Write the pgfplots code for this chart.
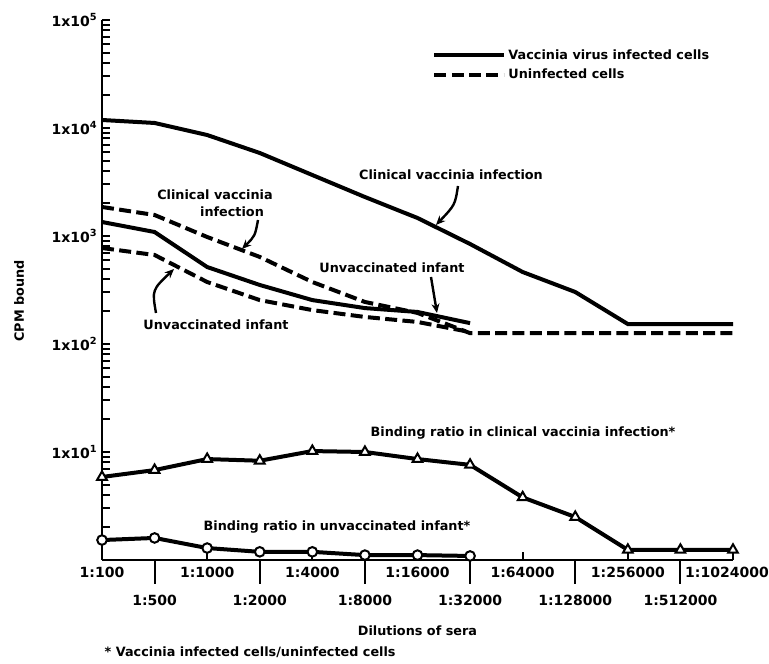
\documentclass[border=0pt]{standalone}
\usepackage{fontspec}
\setmainfont{DejaVu Sans}[UprightFont={* Bold}, BoldFont={* Bold}]
\usepackage{pgfplots}
\pgfplotsset{compat=1.18}
\usetikzlibrary{arrows.meta}

\begin{document}
\begin{tikzpicture}[font=\fontsize{9.6}{11.5}\selectfont]
\path[use as bounding box] (0,0) rectangle (576.75pt,498pt);
\begin{axis}[
  at={(76.5pt,78pt)}, anchor=south west,
  scale only axis, width=473.25pt, height=405pt,
  xmin=0, xmax=12, ymin=1, ymax=100000,
  ymode=log, clip=false,
  axis x line=bottom, axis y line=left,
  axis line style={line width=2.2pt, -},
  tick align=inside,
  major tick length=6pt, minor tick length=6pt,
  every tick/.style={line width=1.5pt, black},
  ytick={10,100,1000,10000,100000},
  yticklabels={1x10\textsuperscript{1},1x10\textsuperscript{2},1x10\textsuperscript{3},1x10\textsuperscript{4},1x10\textsuperscript{5}},
  minor ytick={2,3,4,5,6,7,8,9,20,30,40,50,60,70,80,90,200,300,400,500,600,700,800,900,2000,3000,4000,5000,6000,7000,8000,9000,20000,30000,40000,50000,60000,70000,80000,90000},
  xtick={0,2,4,6,8,10,12},
  xticklabels={1:100,1:1000,1:4000,1:16000,1:64000,1:256000,\hspace*{-9pt}1:1024000},
  extra x ticks={1,3,5,7,9,11},
  extra x tick labels={1:500,1:2000,1:8000,1:32000,1:128000,1:512000},
  extra x tick style={tick align=outside, major tick length=18pt, xticklabel style={yshift=-3pt}},
  tick label style={font=\fontsize{10.5}{12.5}\selectfont},
  xticklabel style={yshift=-2pt},
  xlabel={Dilutions of sera},
  xlabel style={at={(axis description cs:0.5,0)}, anchor=north, yshift=-46pt},
  ylabel={CPM bound},
  ylabel style={at={(axis description cs:-0.1315,0.48)}, anchor=center},
  legend style={at={(0.517,0.956)}, anchor=north west, draw=none, fill=none, row sep=2pt, font=\fontsize{9.6}{11.5}\selectfont},
  legend cell align=left,
  legend image code/.code={\draw[#1] (0pt,0pt) -- (52pt,0pt);},
]
% clinical vaccinia infection, infected cells
\addplot[black, line width=3pt] coordinates {
(0,11860) (1,11130) (2,8610) (3,5870) (4,3670) (5,2296) (6,1468) (7,843) (8,464) (9,303) (10,153) (11,153) (12,153)};
\addlegendentry{Vaccinia virus infected cells}
% clinical vaccinia infection, uninfected cells
\addplot[black, line width=3pt, dash pattern=on 9pt off 4pt] coordinates {
(0,1857) (1,1565) (2,979) (3,640) (4,375) (5,245) (6,194) (7,126) (8,126) (9,126) (10,126) (11,126) (12,126)};
\addlegendentry{Uninfected cells}
% unvaccinated infant, infected cells
\addplot[black, line width=3pt, forget plot] coordinates {
(0,1348) (1,1089) (2,516) (3,352) (4,255) (5,215) (6,198) (7,156)};
% unvaccinated infant, uninfected cells
\addplot[black, line width=3pt, dash pattern=on 9pt off 4pt, forget plot] coordinates {
(0,774) (1,667) (2,375) (3,255) (4,206) (5,178) (6,160) (7,129)};
% binding ratio clinical
\addplot[black, line width=3pt, mark=triangle*, mark size=4.2pt, mark options={fill=white, line width=1.5pt, solid}, forget plot] coordinates {
(0,5.87) (1,6.8) (2,8.6) (3,8.3) (4,10.2) (5,10) (6,8.6) (7,7.6) (8,3.8) (9,2.5) (10,1.24) (11,1.24) (12,1.24)};
% binding ratio unvaccinated
\addplot[black, line width=3pt, mark=*, mark size=3.6pt, mark options={fill=white, line width=1.5pt, solid}, forget plot] coordinates {
(0,1.53) (1,1.6) (2,1.29) (3,1.19) (4,1.19) (5,1.11) (6,1.11) (7,1.09)};
\end{axis}
\begin{scope}[x=0.75pt, y=-0.75pt, shift={(0pt,498pt)}]
\node at (451,175) {Clinical vaccinia infection};
\draw[line width=1.8pt, -{Stealth[length=7pt,width=6pt]}] (458,186) .. controls (455,205) .. (436,225);
\node at (215,195) {Clinical vaccinia};
\node at (232,212) {infection};
\draw[line width=1.8pt, -{Stealth[length=7pt,width=6pt]}] (258,220) .. controls (255,236) .. (242,249);
\node at (392,268) {Unvaccinated infant};
\draw[line width=1.8pt, -{Stealth[length=7pt,width=6pt]}] (431,277) .. controls (434,295) .. (437,313);
\node at (216,325) {Unvaccinated infant};
\draw[line width=1.8pt, -{Stealth[length=7pt,width=6pt]}] (156,313) .. controls (152,290) .. (174,269);
\node at (523,433) {Binding ratio in clinical vaccinia infection*};
\node at (337,527) {Binding ratio in unvaccinated infant*};
\node[anchor=west] at (100,652) {* Vaccinia infected cells/uninfected cells};
\end{scope}
\end{tikzpicture}
\end{document}
